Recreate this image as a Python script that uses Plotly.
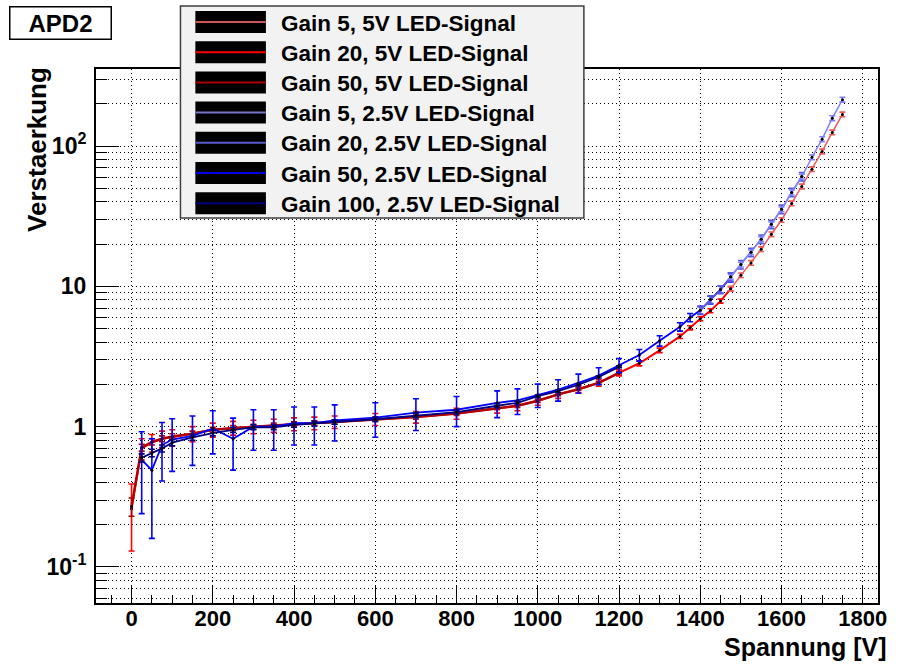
import plotly.graph_objects as go

# ---------------- data ----------------
series_names = ["Gain 5, 5V LED-Signal", "Gain 20, 5V LED-Signal", "Gain 50, 5V LED-Signal",
                "Gain 5, 2.5V LED-Signal", "Gain 20, 2.5V LED-Signal", "Gain 50, 2.5V LED-Signal",
                "Gain 100, 2.5V LED-Signal"]
series_colors = ["#f05a5a", "#ff0000", "#b00000", "#8080ff", "#5a5ae0", "#0000ff", "#000080"]
swatch_colors = ["#cc5555", "#ff0000", "#aa0000", "#7777cc", "#5a5acc", "#0000ee", "#000080"]

# Gain 5, 5V
v_g5_5 = [1475, 1500, 1525, 1550, 1575, 1600, 1625, 1650, 1675, 1700, 1725, 1750]
a_g5_5 = [9.63, 12.0, 14.7, 18.4, 23.5, 29.7, 39.0, 51.5, 68.4, 91.5, 125, 168]
e_g5_5 = [0.35, 0.45, 0.55, 0.7, 0.9, 1.1, 1.5, 2.0, 2.6, 3.5, 4.8, 6.5]

# Gain 20, 5V
v_g20_5 = [0, 25, 50, 75, 100, 150, 200, 250, 300, 350, 400, 450, 500, 600, 700, 800, 900, 950,
           1000, 1050, 1100, 1150, 1200, 1250, 1300, 1350, 1375, 1400, 1425, 1450, 1475]
a_g20_5 = [0.26, 0.70, 0.77, 0.82, 0.84, 0.89, 0.95, 0.98, 1.00, 1.02, 1.045, 1.06, 1.08, 1.13, 1.17,
           1.24, 1.36, 1.41, 1.53, 1.70, 1.85, 2.05, 2.42, 2.83, 3.50, 4.40, 5.07, 5.88, 6.70, 7.85, 9.63]
e_g20_5 = [0.13, 0.12, 0.11, 0.11, 0.11, 0.11, 0.11, 0.11, 0.11, 0.11, 0.11, 0.11, 0.11, 0.11, 0.11,
           0.11, 0.11, 0.11, 0.11, 0.11, 0.11, 0.11, 0.12, 0.12, 0.13, 0.15, 0.17, 0.2, 0.22, 0.26, 0.32]

# Gain 50, 5V
v_g50_5 = [0, 25, 50, 75, 100, 150, 200, 250, 300, 350, 400, 450, 500, 600, 700, 800, 900, 950,
           1000, 1050, 1100, 1150, 1200]
a_g50_5 = [0.27, 0.71, 0.78, 0.82, 0.85, 0.89, 0.95, 0.98, 1.00, 1.02, 1.045, 1.06, 1.08, 1.13, 1.17,
           1.24, 1.36, 1.41, 1.53, 1.70, 1.85, 2.05, 2.42]
e_g50_5 = [0.04] * 23

# Gain 5, 2.5V
v_g5_25 = [1475, 1500, 1525, 1550, 1575, 1600, 1625, 1650, 1675, 1700, 1725, 1750]
a_g5_25 = [11.7, 14.3, 17.5, 21.7, 27.7, 35.4, 46.7, 60.6, 83.1, 112, 158, 214]
e_g5_25 = [0.45, 0.55, 0.7, 0.85, 1.1, 1.4, 1.9, 2.4, 3.3, 4.5, 6.3, 8.5]

# Gain 20, 2.5V
v_g20_25 = [1400, 1425, 1450, 1475, 1500, 1525, 1550, 1575, 1600, 1625, 1650]
a_g20_25 = [6.77, 8.06, 9.51, 11.7, 14.3, 17.5, 21.7, 27.7, 35.4, 46.7, 60.6]
e_g20_25 = [0.4, 0.5, 0.6, 0.8, 1.0, 1.2, 1.5, 1.9, 2.5, 3.2, 4.2]

# Gain 50, 2.5V
v_g50_25 = [25, 50, 75, 100, 150, 200, 250, 300, 350, 400, 450, 500, 600, 700, 800, 900, 950,
            1000, 1050, 1100, 1150, 1200, 1250, 1300, 1350, 1375, 1400, 1425, 1450, 1475]
a_g50_25 = [0.58, 0.49, 0.74, 0.81, 0.86, 0.97, 0.82, 1.00, 1.00, 1.06, 1.06, 1.11, 1.16, 1.26,
            1.32, 1.48, 1.54, 1.69, 1.84, 2.05, 2.31, 2.74, 3.24, 4.10, 5.15, 6.0, 6.75, 8.0, 9.51, 11.6]
e_g50_25 = [0.34, 0.33, 0.33, 0.33, 0.33, 0.33, 0.33, 0.32, 0.32, 0.32, 0.32, 0.32, 0.32, 0.32,
            0.32, 0.32, 0.32, 0.32, 0.32, 0.32, 0.32, 0.32, 0.31, 0.35, 0.35, 0.4, 0.45, 0.5, 0.6, 0.85]

# Gain 100, 2.5V
v_g100_25 = [25, 50, 75, 100, 150, 200, 250, 300, 350, 400, 450, 500, 600, 700, 800, 900, 950,
             1000, 1050, 1100, 1150, 1200]
a_g100_25 = [0.60, 0.65, 0.70, 0.77, 0.84, 0.90, 0.95, 0.99, 0.99, 1.03, 1.05, 1.08, 1.13, 1.20,
             1.27, 1.41, 1.48, 1.65, 1.79, 1.99, 2.26, 2.67]
e_g100_25 = [0.04] * 22

x_ticks = [0, 200, 400, 600, 800, 1000, 1200, 1400, 1600, 1800]
y_ticks = [0.1, 1, 10, 100]
y_ticktext = ["10<sup>-1</sup>", "1", "10", "10<sup>2</sup>"]
y_minor = [0.06, 0.07, 0.08, 0.09, 0.2, 0.3, 0.4, 0.5, 0.6, 0.7, 0.8, 0.9,
           2, 3, 4, 5, 6, 7, 8, 9, 20, 30, 40, 50, 60, 70, 80, 90, 200, 300]

title_text = "APD2"
x_title = "Spannung [V]"
y_title = "Verstaerkung"

# ---------------- figure ----------------
W, H = 899, 664
ML, MR, MT, MB = 96, 16, 69, 61
PW, PH = W - ML - MR, H - MT - MB
FONT = "Liberation Sans, Arial, Helvetica, sans-serif"
DOT = "1px,3px"


def px(x):
    return (x - ML) / PW


def py(y):
    return (H - MB - y) / PH


data = {
    0: (v_g5_5, a_g5_5, e_g5_5),
    1: (v_g20_5, a_g20_5, e_g20_5),
    2: (v_g50_5, a_g50_5, e_g50_5),
    3: (v_g5_25, a_g5_25, e_g5_25),
    4: (v_g20_25, a_g20_25, e_g20_25),
    5: (v_g50_25, a_g50_25, e_g50_25),
    6: (v_g100_25, a_g100_25, e_g100_25),
}
draw_order = [1, 2, 0, 5, 6, 4, 3]
widths = {0: 1.5, 1: 2.0, 2: 2.5, 3: 1.5, 4: 1.5, 5: 1.8, 6: 1.8}

fig = go.Figure()
for i in draw_order:
    xs, ys, es = data[i]
    fig.add_trace(go.Scatter(
        x=xs, y=ys, mode="lines+markers", name=series_names[i],
        line=dict(color=series_colors[i], width=widths[i]),
        marker=dict(color="black", size=3),
        error_y=dict(type="data", array=es, visible=True, color=series_colors[i],
                     thickness=1.6, width=3),
        showlegend=False,
    ))

fig.update_xaxes(
    range=[-87.5, 1837.5], tickvals=x_ticks, ticks="inside", ticklen=18, tickwidth=1.2,
    tickcolor="black", showline=True, linecolor="black", linewidth=2, mirror=True,
    tickfont=dict(family=FONT, size=22, color="black", weight="bold"),
    ticklabelstandoff=-5,
    minor=dict(dtick=50, tick0=0, ticks="inside", ticklen=8, tickwidth=1.2, tickcolor="black", showgrid=False),
    zeroline=False, showgrid=True, gridcolor="black", gridwidth=1, griddash=DOT,
)
fig.update_yaxes(
    type="log", range=[-1.2566, 2.549], tickvals=y_ticks, ticktext=y_ticktext,
    ticks="inside", ticklen=23, tickwidth=1.2, tickcolor="black",
    showline=True, linecolor="black", linewidth=2, mirror=True,
    tickfont=dict(family=FONT, size=23, color="black", weight="bold"),
    ticklabelstandoff=3,
    minor=dict(tickvals=y_minor, ticks="inside", ticklen=11, tickwidth=1.2, tickcolor="black",
               showgrid=True, gridcolor="black", gridwidth=1, griddash=DOT),
    zeroline=False, showgrid=True, gridcolor="black", gridwidth=1, griddash=DOT,
)

shapes = []
annotations = []

# legend box
shapes.append(dict(type="rect", xref="paper", yref="paper", x0=px(181), x1=px(587), y0=py(6), y1=py(218),
                   fillcolor="#f2f2f2", line=dict(color="#404040", width=1.5), layer="above"))
for k in range(7):
    yc = 22 + 30.2 * k
    shapes.append(dict(type="rect", xref="paper", yref="paper", x0=px(196), x1=px(267),
                       y0=py(yc - 11), y1=py(yc + 11), fillcolor="black", line=dict(width=0), layer="above"))
    shapes.append(dict(type="line", xref="paper", yref="paper", x0=px(196), x1=px(267),
                       y0=py(yc), y1=py(yc), line=dict(color=swatch_colors[k], width=2), layer="above"))
    annotations.append(dict(text=series_names[k], xref="paper", yref="paper", x=px(280), y=py(yc + 1),
                            xanchor="left", yanchor="middle", showarrow=False,
                            font=dict(family=FONT, size=22.5, color="black", weight="bold")))

# title box
annotations.append(dict(text=title_text, xref="paper", yref="paper", x=px(8), y=py(6),
                        xanchor="left", yanchor="top", showarrow=False, width=98, height=29,
                        align="center", valign="middle", bgcolor="white", bordercolor="black",
                        borderwidth=1.5, borderpad=1,
                        font=dict(family=FONT, size=24, color="black", weight="bold")))
# axis titles
annotations.append(dict(text=x_title, xref="paper", yref="paper", x=px(893), y=py(647),
                        xanchor="right", yanchor="middle", showarrow=False,
                        font=dict(family=FONT, size=25, color="black", weight="bold")))
annotations.append(dict(text=y_title, xref="paper", yref="paper", x=px(36), y=py(65),
                        xanchor="center", yanchor="top", textangle=-90, showarrow=False,
                        font=dict(family=FONT, size=26, color="black", weight="bold")))

fig.update_layout(
    width=W, height=H, margin=dict(l=ML, r=MR, t=MT, b=MB),
    paper_bgcolor="white", plot_bgcolor="white",
    shapes=shapes, annotations=annotations, showlegend=False,
)

fig.write_html("out.html")
